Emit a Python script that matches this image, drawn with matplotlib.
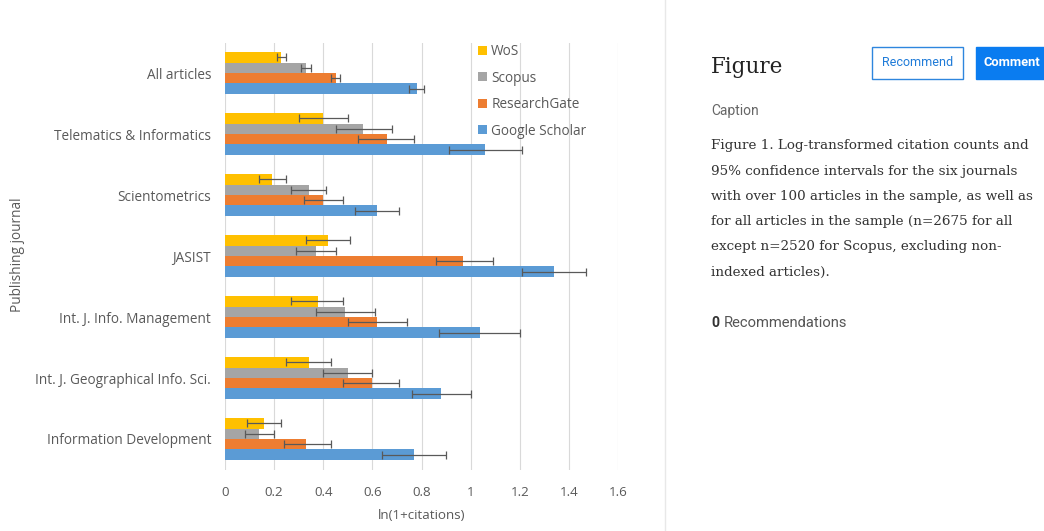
import matplotlib
matplotlib.use("Agg")
import matplotlib.pyplot as plt
import numpy as np
from matplotlib.patches import FancyBboxPatch
from matplotlib.lines import Line2D

categories = ["All articles", "Telematics & Informatics", "Scientometrics", "JASIST",
              "Int. J. Info. Management", "Int. J. Geographical Info. Sci.", "Information Development"]
series = ["WoS", "Scopus", "ResearchGate", "Google Scholar"]
colors = ["#FFC000", "#A5A5A5", "#ED7D31", "#5B9BD5"]

wos = [0.23, 0.40, 0.19, 0.42, 0.38, 0.34, 0.16]
wos_lo = [0.21, 0.30, 0.14, 0.33, 0.27, 0.25, 0.09]
wos_hi = [0.25, 0.50, 0.25, 0.51, 0.48, 0.43, 0.23]

scopus = [0.33, 0.56, 0.34, 0.37, 0.49, 0.50, 0.14]
scopus_lo = [0.31, 0.45, 0.27, 0.29, 0.37, 0.40, 0.08]
scopus_hi = [0.35, 0.68, 0.41, 0.45, 0.61, 0.60, 0.20]

rg = [0.45, 0.66, 0.40, 0.97, 0.62, 0.60, 0.33]
rg_lo = [0.43, 0.54, 0.32, 0.86, 0.50, 0.48, 0.24]
rg_hi = [0.47, 0.77, 0.48, 1.09, 0.74, 0.71, 0.43]

gs = [0.78, 1.06, 0.62, 1.34, 1.04, 0.88, 0.77]
gs_lo = [0.75, 0.91, 0.53, 1.21, 0.87, 0.76, 0.64]
gs_hi = [0.81, 1.21, 0.71, 1.47, 1.20, 1.00, 0.90]

xticks = [0, 0.2, 0.4, 0.6, 0.8, 1, 1.2, 1.4, 1.6]
xtick_labels = ["0", "0.2", "0.4", "0.6", "0.8", "1", "1.2", "1.4", "1.6"]

caption_lines = [
    "Figure 1. Log-transformed citation counts and",
    "95% confidence intervals for the six journals",
    "with over 100 articles in the sample, as well as",
    "for all articles in the sample (n=2675 for all",
    "except n=2520 for Scopus, excluding non-",
    "indexed articles).",
]

W, H = 1044, 531
fig = plt.figure(figsize=(W / 100, H / 100), dpi=100)
fig.patch.set_facecolor("white")

def fx(px):
    return px / W

def fy(py):
    return 1 - py / H

chart_font = ["Open Sans", "DejaVu Sans"]
tick_color = "#595959"

ax = fig.add_axes([fx(225), fy(469.5), fx(618) - fx(225), fy(42.5) - fy(469.5)])
h = 0.172
ypos = np.arange(len(categories))
data = [(wos, wos_lo, wos_hi), (scopus, scopus_lo, scopus_hi), (rg, rg_lo, rg_hi), (gs, gs_lo, gs_hi)]
handles = []
for k, (vals, lo, hi) in enumerate(data):
    vals = np.array(vals); lo = np.array(lo); hi = np.array(hi)
    yy = ypos + (k - 1.5) * h
    b = ax.barh(yy, vals, height=h, color=colors[k], label=series[k], zorder=2)
    ax.errorbar(vals, yy, xerr=[vals - lo, hi - vals], fmt="none", ecolor="#595959",
                elinewidth=0.9, capsize=2.8, capthick=0.9, zorder=3)
    handles.append(b)

ax.set_xlim(0, 1.6)
ax.set_ylim(len(categories) - 0.5, -0.5)
ax.set_xticks(xticks)
ax.set_xticklabels(xtick_labels, fontfamily=chart_font, fontsize=9.6, color=tick_color)
ax.set_yticks(ypos)
ax.set_yticklabels(categories, fontfamily=chart_font, fontsize=9.8, color=tick_color)
ax.tick_params(axis="both", length=0)
ax.tick_params(axis="x", pad=12)
ax.tick_params(axis="y", pad=10)
ax.grid(axis="x", color="#D9D9D9", linewidth=0.8, zorder=0)
ax.set_axisbelow(True)
for s in ax.spines.values():
    s.set_visible(False)
ax.set_xlabel("ln(1+citations)", fontfamily=chart_font, fontsize=9.6, color=tick_color, labelpad=7)
fig.text(fx(18), fy(255), "Publishing journal", rotation=90, ha="center", va="center",
         fontfamily=chart_font, fontsize=9.8, color=tick_color)

leg = ax.legend(handles=handles, loc="upper left", bbox_to_anchor=(fx(466), fy(32)),
                bbox_transform=fig.transFigure, frameon=False, handlelength=0.65, handleheight=0.65,
                handletextpad=0.3, labelspacing=0.84, prop={"family": chart_font, "size": 9.8})
for t in leg.get_texts():
    t.set_color(tick_color)

# separator line
fig.add_artist(Line2D([fx(665), fx(665)], [0, 1], color="#E8E8E8", linewidth=1))

# right panel
fig.text(fx(711), fy(67), "Figure", fontfamily=["DejaVu Serif"], fontsize=15.5, color="#222222",
         ha="left", va="center")
fig.add_artist(FancyBboxPatch((fx(872), fy(79)), fx(963) - fx(872), fy(47) - fy(79),
                              boxstyle="square,pad=0", transform=fig.transFigure,
                              facecolor="white", edgecolor="#2E86DE", linewidth=1))
fig.text(fx(917.5), fy(63), "Recommend", fontfamily=["Roboto", "DejaVu Sans"], fontsize=9,
         color="#1F7BD8", ha="center", va="center")
fig.add_artist(FancyBboxPatch((fx(976), fy(79)), fx(1060) - fx(976), fy(47) - fy(79),
                              boxstyle="square,pad=0", transform=fig.transFigure,
                              facecolor="#0A7CF0", edgecolor="#0A7CF0", linewidth=1, clip_on=False))
fig.text(fx(983), fy(63), "Comment", fontfamily=["Roboto", "DejaVu Sans"], fontsize=9.3,
         fontweight="bold", color="white", ha="left", va="center")
fig.text(fx(711), fy(111), "Caption", fontfamily=["Roboto", "DejaVu Sans"], fontsize=10,
         color="#666666", ha="left", va="center")
for i, line in enumerate(caption_lines):
    fig.text(fx(711), fy(146 + 25.2 * i), line, fontfamily=["DejaVu Serif"], fontsize=9.7,
             color="#333333", ha="left", va="center")
fig.text(fx(711), fy(323), "0", fontfamily=["Roboto", "DejaVu Sans"], fontsize=10.2,
         fontweight="bold", color="#333333", ha="left", va="center")
fig.text(fx(724), fy(323), "Recommendations", fontfamily=["Roboto", "DejaVu Sans"], fontsize=10.6,
         color="#555555", ha="left", va="center")

fig.savefig("out.png", dpi=100, facecolor="white")
